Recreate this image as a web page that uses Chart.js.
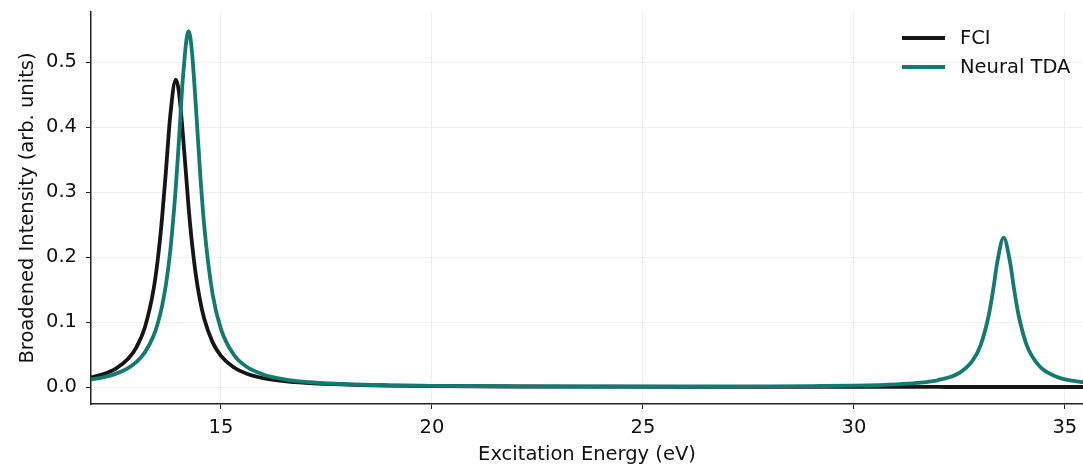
<!DOCTYPE html>
<html>
<head>
<meta charset="utf-8">
<script src="https://cdn.jsdelivr.net/npm/chart.js@4.4.1/dist/chart.umd.min.js"></script>
<style>
  html, body { margin: 0; padding: 0; background: #fff; }
  #wrap { width: 1083px; height: 468px; position: relative; }
</style>
</head>
<body>
<div id="wrap"><canvas id="spectrum"></canvas></div>
<script>
// Excitation energies (eV) where the curves were read
const energies = [11.9, 12.2, 12.5, 12.8, 13.0, 13.2, 13.4, 13.5, 13.6, 13.7, 13.8, 13.93, 14.0, 14.1, 14.23,
  14.3, 14.4, 14.5, 14.6, 14.8, 15.0, 15.3, 15.6, 16.0, 16.5, 17, 18, 19, 20, 22, 24, 26, 28, 29, 30,
  31, 31.5, 32, 32.5, 32.8, 33.0, 33.2, 33.3, 33.4, 33.55, 33.7, 33.8, 33.9, 34.1, 34.4, 34.8, 35.1, 35.5];

const fciIntensity = [0.0144, 0.0196, 0.0282, 0.0436, 0.0616, 0.0925, 0.1493, 0.1949, 0.2570, 0.3359, 0.4184, 0.473, 0.4558, 0.3868, 0.2792,
  0.2300, 0.1749, 0.1349, 0.1060, 0.0692, 0.0481, 0.0306, 0.0210, 0.0139, 0.0091, 0.0064, 0.0037, 0.0024, 0.0017, 0.0009, 0.0006, 0.00042, 0.00031, 0.00027, 0.00024,
  0.00021, 0.0002, 0.00019, 0.00018, 0.00017, 0.00017, 0.00016, 0.00016, 0.00016, 0.00016, 0.00015, 0.00015, 0.00015, 0.00015, 0.00014, 0.00014, 0.00013, 0.00013];

const tdaIntensity = [0.0115, 0.0149, 0.0203, 0.0293, 0.0388, 0.0538, 0.0786, 0.0975, 0.1234, 0.1595, 0.2104, 0.3076, 0.3753, 0.4772, 0.547,
  0.5248, 0.4376, 0.3355, 0.2504, 0.1436, 0.0893, 0.0502, 0.0317, 0.0195, 0.0120, 0.0081, 0.0044, 0.0028, 0.0020, 0.00125, 0.00095, 0.00093, 0.0012, 0.0016, 0.0023,
  0.0042, 0.0064, 0.0108, 0.0220, 0.0394, 0.0638, 0.1117, 0.1493, 0.1925, 0.230, 0.1925, 0.1493, 0.1117, 0.0638, 0.0319, 0.0160, 0.0107, 0.0070];

const xTicks = [15, 20, 25, 30, 35];
const yTicks = [0.0, 0.1, 0.2, 0.3, 0.4, 0.5];

const FONT = "'DejaVu Sans', sans-serif";
const FONT_SIZE = 19.5;
const FCI_COLOR = "#151515";
const TDA_COLOR = "#127a6f";

function points(ys) {
  return energies.map((x, i) => ({ x: x, y: ys[i] }));
}

// legend drawn inside the plot, top right
const insideLegend = {
  id: "insideLegend",
  afterDraw(chart) {
    const ctx = chart.ctx;
    const items = chart.data.datasets.slice().sort((a, b) => a.legendRank - b.legendRank);
    ctx.save();
    ctx.font = FONT_SIZE + "px " + FONT;
    ctx.textBaseline = "middle";
    items.forEach((ds, i) => {
      const y = 38 + i * 29;
      ctx.strokeStyle = ds.borderColor;
      ctx.lineWidth = 3.8;
      ctx.beginPath();
      ctx.moveTo(902, y);
      ctx.lineTo(945, y);
      ctx.stroke();
      ctx.fillStyle = "#111";
      ctx.fillText(ds.label, 960, y + 1);
    });
    ctx.restore();
  }
};

new Chart(document.getElementById("spectrum"), {
  type: "line",
  data: {
    datasets: [
      {
        label: "FCI",
        legendRank: 0,
        data: points(fciIntensity),
        borderColor: FCI_COLOR,
        borderWidth: 3.8,
        pointRadius: 0,
        cubicInterpolationMode: "monotone",
        order: 1
      },
      {
        label: "Neural TDA",
        legendRank: 1,
        data: points(tdaIntensity),
        borderColor: TDA_COLOR,
        borderWidth: 3.8,
        pointRadius: 0,
        cubicInterpolationMode: "monotone",
        order: 0
      }
    ]
  },
  options: {
    responsive: true,
    maintainAspectRatio: false,
    animation: false,
    layout: { padding: { top: 12, right: 0, left: 0, bottom: 0 } },
    plugins: {
      legend: { display: false },
      tooltip: { enabled: false }
    },
    scales: {
      x: {
        type: "linear",
        min: 11.92,
        max: 35.43,
        afterBuildTicks: s => { s.ticks = xTicks.map(v => ({ value: v })); },
        afterFit: s => { s.height = 64; s.paddingLeft = 0; s.paddingRight = 0; },
        ticks: {
          font: { family: FONT, size: FONT_SIZE },
          color: "#111",
          padding: 7,
          maxRotation: 0,
          callback: v => String(v)
        },
        grid: { color: "#efefef", lineWidth: 1, tickColor: "#222", tickLength: 5 },
        border: { display: true, color: "#222", width: 1.5 },
        title: {
          display: true,
          text: "Excitation Energy (eV)",
          font: { family: FONT, size: FONT_SIZE },
          color: "#111",
          padding: { top: 0, bottom: 1 }
        }
      },
      y: {
        type: "linear",
        min: -0.026,
        max: 0.577,
        afterBuildTicks: s => { s.ticks = yTicks.map(v => ({ value: v })); },
        afterFit: s => { s.width = 91; s.paddingTop = 0; s.paddingBottom = 0; },
        ticks: {
          font: { family: FONT, size: FONT_SIZE },
          color: "#111",
          padding: 9,
          callback: v => v.toFixed(1)
        },
        grid: { color: "#efefef", lineWidth: 1, tickColor: "#222", tickLength: 5 },
        border: { display: true, color: "#222", width: 1.5 },
        title: {
          display: true,
          text: "Broadened Intensity (arb. units)",
          font: { family: FONT, size: FONT_SIZE },
          color: "#111",
          padding: { top: 16, bottom: 0 }
        }
      }
    }
  },
  plugins: [insideLegend]
});
</script>
</body>
</html>
